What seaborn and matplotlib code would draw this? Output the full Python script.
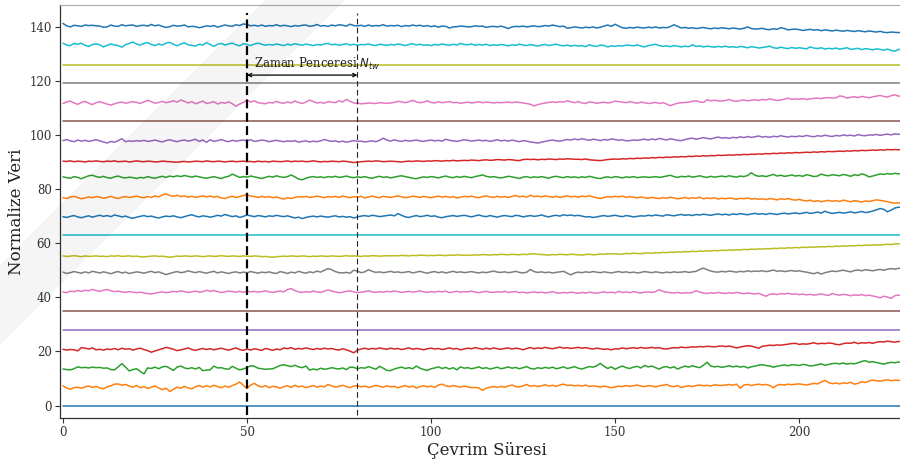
import numpy as np
import pandas as pd
import matplotlib
matplotlib.use("Agg")
import matplotlib.pyplot as plt
from matplotlib.patches import Polygon
import seaborn as sns

# ---------------------------------------------------------------------------
# Normalised sensor signals, each shifted by 7 units so the traces stack up.
# ---------------------------------------------------------------------------
offset_step = 7
window_start = 50
window_end = 80
window_label = "Zaman Penceresi $N_{tw}$"
x_label = "Çevrim Süresi"
y_label = "Normalize Veri"
x_ticks = [0, 50, 100, 150, 200]
y_ticks = [0, 20, 40, 60, 80, 100, 120, 140]
n_cycles = 229

# sensors that stay constant over the whole run (index -> level)
flat_levels = {0: 0.0, 4: 28.0, 5: 35.0, 9: 63.0, 15: 105.0, 17: 119.0, 18: 126.0}

s01 = [7.3, 6.5, 6.0, 6.6, 6.8, 6.4, 6.9, 7.2, 6.7, 7.1,
       6.5, 6.2, 6.9, 7.3, 7.9, 8.0, 7.5, 7.8, 7.2, 6.8,
       7.4, 6.6, 7.0, 6.3, 6.8, 7.2, 6.5, 5.9, 6.4, 5.2,
       6.0, 6.8, 6.4, 7.1, 6.5, 6.2, 6.9, 7.4, 6.8, 7.3,
       6.9, 7.5, 7.0, 6.6, 7.2, 6.8, 7.4, 7.9, 8.7, 7.5,
       6.3, 7.6, 8.2, 7.3, 6.8, 7.4, 6.6, 7.1, 6.9, 6.4,
       7.0, 7.3, 6.7, 7.5, 6.9, 7.2, 6.6, 7.0, 7.4, 6.8,
       7.2, 6.9, 7.8, 7.3, 6.8, 7.1, 7.5, 7.0, 6.6, 7.2,
       7.4, 6.9, 7.2, 6.7, 7.0, 7.5, 7.1, 6.8, 7.3, 6.9,
       7.1, 6.6, 7.0, 7.4, 6.8, 7.2, 6.5, 7.0, 7.3, 6.9,
       7.2, 6.7, 7.6, 7.9, 7.3, 7.0, 7.4, 7.1, 6.8, 7.2,
       6.9, 6.6, 6.7, 6.5, 5.6, 6.4, 6.8, 7.0, 6.7, 7.1,
       6.8, 7.2, 7.6, 7.0, 6.9, 7.3, 7.8, 7.1, 7.4, 7.0,
       7.3, 7.7, 7.2, 7.5, 7.1, 7.6, 7.9, 7.4, 7.6, 7.3,
       7.5, 7.2, 7.6, 7.0, 7.3, 7.1, 6.8, 7.2, 6.9, 6.6,
       6.9, 7.2, 7.0, 7.4, 7.1, 7.3, 7.6, 7.2, 7.0, 7.4,
       7.2, 6.9, 7.3, 7.5, 7.8, 7.2, 7.0, 7.4, 6.6, 7.1,
       7.3, 7.0, 7.4, 7.6, 7.3, 7.5, 7.2, 7.7, 7.5, 7.4,
       7.6, 7.8, 7.5, 7.9, 6.4, 7.6, 7.8, 7.4, 7.7, 7.9,
       7.6, 7.8, 7.4, 6.6, 7.5, 7.8, 7.6, 7.9, 7.7, 7.9,
       8.0, 7.8, 7.6, 7.9, 8.2, 8.0, 8.7, 9.3, 8.5, 8.1,
       8.3, 8.0, 8.4, 8.2, 8.6, 7.9, 8.2, 8.8, 8.5, 9.1,
       9.4, 9.2, 9.0, 9.3, 9.5, 9.2, 9.4, 9.3, 9.4]

s02 = [13.5, 13.3, 13.2, 13.6, 14.3, 14.0, 14.1, 13.9, 14.2, 14.0,
       14.1, 13.8, 13.9, 13.3, 13.2, 14.3, 15.5, 14.2, 12.8, 13.3,
       13.6, 12.6, 11.7, 13.9, 13.7, 14.2, 13.6, 14.3, 14.5, 13.8,
       13.0, 14.2, 14.6, 13.9, 13.6, 14.0, 13.5, 14.1, 12.9, 13.1,
       13.2, 14.6, 13.9, 14.0, 13.6, 13.4, 14.5, 13.8, 13.2, 13.5,
       14.1, 14.7, 14.5, 13.8, 13.6, 13.4, 13.5, 13.6, 14.2, 14.8,
       15.1, 14.7, 14.4, 14.9, 14.3, 14.0, 14.6, 13.1, 13.5, 13.2,
       13.8, 13.4, 13.6, 14.0, 13.7, 13.5, 13.9, 13.3, 14.2, 14.1,
       13.6, 14.0, 13.8, 14.4, 13.9, 13.4, 14.5, 13.8, 13.0, 12.9,
       13.5, 13.9, 14.2, 13.7, 14.0, 13.6, 14.6, 13.8, 13.3, 13.0,
       13.6, 13.9, 14.3, 13.7, 14.1, 13.5, 14.0, 13.2, 14.3, 13.8,
       14.0, 13.6, 13.9, 14.3, 13.7, 14.0, 13.5, 13.8, 14.2, 13.6,
       13.9, 14.3, 13.8, 14.1, 13.6, 14.0, 14.4, 13.7, 13.5, 14.0,
       13.7, 14.1, 13.8, 14.2, 13.6, 13.9, 14.3, 13.7, 14.0, 14.4,
       13.8, 13.5, 14.0, 14.4, 14.2, 14.7, 15.6, 14.5, 13.7, 14.3,
       13.4, 14.1, 14.6, 14.0, 13.7, 14.2, 14.5, 13.9, 14.8, 14.3,
       14.6, 14.0, 13.5, 14.2, 14.4, 13.9, 14.3, 13.5, 14.1, 14.6,
       14.2, 14.7, 14.3, 14.0, 14.9, 16.0, 14.6, 14.3, 14.5, 14.1,
       14.4, 14.7, 14.3, 14.6, 14.2, 14.5, 13.9, 14.3, 14.6, 14.9,
       15.1, 14.8, 14.6, 14.2, 14.5, 14.8, 15.0, 14.7, 15.1, 15.0,
       14.8, 15.2, 15.0, 14.6, 14.8, 15.1, 15.4, 14.9, 15.2, 15.5,
       15.6, 15.4, 15.7, 15.3, 15.6, 15.4, 15.8, 16.3, 16.6, 16.0,
       16.2, 15.9, 15.6, 15.3, 15.7, 16.0, 15.8, 16.1, 15.9]

s03 = [20.8, 20.5, 20.7, 20.6, 20.2, 21.4, 21.2, 20.9, 21.3, 20.6,
       20.8, 20.5, 20.9, 20.7, 21.1, 20.6, 21.2, 20.8, 21.0, 20.5,
       20.9, 21.2, 20.7, 20.3, 19.7, 20.2, 20.6, 21.0, 21.5, 21.2,
       20.8, 20.3, 20.6, 20.9, 21.3, 20.7, 20.4, 20.8, 21.1, 20.7,
       21.0, 20.6, 20.9, 21.2, 20.8, 20.5, 20.9, 21.3, 20.7, 20.4,
       20.9, 20.5, 21.0, 20.7, 20.4, 21.1, 20.8, 20.4, 20.9, 20.6,
       21.3, 21.0, 21.4, 20.8, 21.1, 20.9, 21.3, 21.0, 20.7, 21.1,
       20.8, 21.2, 20.9, 21.1, 20.7, 20.5, 21.0, 20.6, 20.1, 19.5,
       20.5, 20.9, 21.2, 20.8, 21.1, 20.9, 21.3, 21.0, 20.8, 21.2,
       20.9, 21.1, 20.7, 21.0, 21.3, 20.8, 21.1, 20.9, 20.6, 21.0,
       21.2, 20.9, 21.1, 20.7, 21.0, 21.3, 20.9, 21.1, 20.6, 20.9,
       21.2, 21.0, 21.4, 21.1, 20.8, 21.2, 20.9, 21.3, 21.0, 20.8,
       21.1, 21.3, 20.9, 21.2, 21.0, 20.6, 21.1, 21.4, 21.0, 21.3,
       21.1, 21.5, 21.2, 21.0, 21.3, 21.6, 21.2, 21.4, 21.1, 21.3,
       21.5, 21.2, 21.4, 21.1, 20.9, 21.2, 21.0, 20.8, 20.9, 20.6,
       21.0, 20.9, 21.3, 21.0, 21.2, 21.4, 21.1, 21.5, 21.2, 21.3,
       21.5, 21.2, 21.4, 21.0, 20.9, 21.2, 21.4, 21.3, 21.6, 21.4,
       21.5, 21.7, 21.6, 21.8, 21.7, 21.9, 21.8, 21.7, 21.9, 22.0,
       21.8, 22.0, 21.7, 21.3, 21.6, 21.9, 22.1, 22.0, 21.6, 21.2,
       21.9, 22.1, 22.3, 22.2, 22.4, 22.3, 22.5, 22.7, 22.9, 23.0,
       22.6, 22.8, 22.7, 22.9, 23.2, 22.8, 23.0, 22.9, 23.1, 23.0,
       22.6, 22.5, 22.9, 23.1, 23.0, 23.4, 22.9, 23.2, 23.1, 23.3,
       23.0, 23.4, 23.6, 23.5, 23.8, 23.6, 23.4, 23.7, 23.5]

s06 = [42.0, 41.7, 42.3, 42.1, 42.5, 42.2, 42.6, 42.4, 42.9, 42.5,
       42.2, 42.6, 42.9, 42.4, 42.1, 42.3, 42.0, 41.8, 42.1, 41.9,
       41.7, 41.9, 41.6, 41.4, 41.2, 41.5, 41.8, 42.0, 41.7, 41.9,
       42.2, 42.0, 42.4, 42.1, 41.8, 42.0, 42.3, 41.9, 42.1, 42.6,
       42.2, 42.5, 42.1, 41.8, 42.0, 42.3, 42.1, 41.9, 42.2, 41.8,
       42.3, 42.0, 42.2, 41.9, 42.1, 42.4, 42.0, 41.8, 42.1, 42.3,
       42.0, 42.9, 43.2, 42.5, 42.0, 41.8, 42.1, 41.9, 42.3, 42.0,
       41.8, 42.2, 42.8, 42.3, 42.0, 41.7, 41.9, 42.2, 42.4, 42.0,
       41.7, 41.9, 42.1, 42.4, 42.0, 41.8, 42.1, 41.9, 42.2, 42.0,
       42.3, 42.1, 41.8, 42.0, 42.2, 41.9, 42.1, 42.4, 42.0, 41.8,
       42.1, 41.9, 42.2, 42.0, 42.3, 41.7, 42.0, 42.2, 41.9, 42.1,
       42.0, 42.3, 41.9, 41.7, 42.0, 42.2, 41.9, 41.8, 42.1, 41.9,
       42.2, 41.8, 42.0, 42.1, 41.7, 41.9, 41.6, 41.8, 42.0, 41.7,
       41.9, 41.6, 41.8, 42.1, 41.7, 41.5, 41.8, 41.6, 41.9, 41.7,
       41.5, 41.8, 41.6, 41.9, 41.7, 41.5, 41.8, 42.0, 41.7, 41.9,
       41.6, 42.2, 41.8, 42.0, 41.7, 42.1, 41.8, 41.6, 41.9, 42.0,
       41.8, 42.1, 42.8, 42.2, 41.9, 41.7, 41.6, 41.8, 41.5, 41.7,
       41.6, 41.8, 42.4, 41.9, 41.6, 41.4, 41.7, 41.5, 41.8, 41.6,
       41.4, 41.7, 41.5, 41.8, 41.6, 41.3, 41.6, 41.4, 41.2, 41.5,
       40.9, 40.4, 41.1, 41.3, 41.0, 41.4, 41.2, 41.5, 41.1, 41.3,
       41.0, 41.2, 40.9, 41.1, 40.8, 41.0, 41.3, 40.9, 40.7, 41.4,
       41.0, 40.8, 41.1, 40.9, 40.6, 40.9, 40.7, 41.0, 40.6, 40.8,
       40.5, 40.2, 39.8, 40.4, 40.1, 39.6, 40.6, 40.8, 40.7]

s07 = [49.3, 48.8, 49.1, 49.5, 49.2, 48.9, 49.4, 49.0, 49.6, 49.3,
       49.0, 49.4, 49.1, 48.7, 49.2, 49.5, 49.0, 49.3, 48.8, 49.1,
       49.4, 49.2, 48.9, 49.3, 49.6, 49.1, 49.4, 48.9, 48.4, 48.8,
       49.2, 49.5, 49.1, 49.3, 49.8, 49.4, 49.1, 49.5, 49.2, 48.9,
       49.3, 49.6, 49.0, 49.4, 49.1, 48.8, 49.2, 49.4, 49.0, 49.3,
       49.1, 49.5, 49.2, 48.9, 49.3, 49.1, 49.4, 49.0, 48.8, 49.5,
       49.2, 48.8, 49.3, 49.0, 49.6, 49.2, 48.9, 49.4, 49.1, 49.7,
       49.3, 50.0, 50.6, 50.2, 49.5, 49.1, 49.0, 49.2, 48.9, 50.0,
       49.7, 49.1, 49.4, 50.2, 49.6, 49.2, 49.4, 49.1, 49.3, 49.6,
       49.2, 49.4, 49.1, 49.3, 49.5, 49.0, 49.3, 49.6, 49.2, 48.9,
       49.3, 49.5, 49.1, 49.4, 49.0, 49.3, 49.6, 49.2, 49.4, 49.1,
       49.3, 49.5, 49.2, 49.0, 49.3, 49.1, 49.4, 49.7, 49.3, 49.2,
       49.4, 49.1, 49.3, 49.6, 49.2, 49.0, 49.3, 50.3, 49.5, 49.2,
       49.4, 49.1, 49.3, 49.0, 49.2, 49.4, 49.6, 48.9, 48.3, 49.0,
       49.3, 49.1, 49.4, 49.2, 49.5, 49.3, 49.1, 49.4, 49.2, 49.0,
       49.3, 49.5, 49.2, 49.4, 49.1, 49.3, 49.0, 49.2, 49.5, 49.3,
       49.1, 49.4, 49.2, 49.0, 49.3, 49.1, 49.4, 49.2, 49.3, 49.5,
       49.2, 49.4, 49.6, 50.3, 50.8, 50.2, 49.7, 49.4, 49.3, 49.6,
       49.4, 49.7, 49.5, 49.3, 49.6, 49.4, 49.8, 49.5, 49.7, 49.6,
       49.8, 49.5, 49.7, 50.1, 49.6, 49.8, 49.5, 49.7, 49.9, 49.6,
       49.8, 49.5, 49.3, 49.0, 48.7, 49.2, 48.6, 49.1, 49.4, 49.7,
       49.5, 49.8, 50.0, 49.7, 49.4, 49.9, 50.1, 49.8, 50.2, 50.0,
       49.8, 50.1, 50.3, 50.0, 50.4, 50.6, 50.4, 50.7, 50.9]

s08 = [55.3, 55.1, 55.2, 55.4, 55.2, 55.0, 55.3, 55.1, 55.2, 55.3,
       55.1, 55.2, 55.0, 55.3, 55.2, 55.4, 55.1, 55.2, 55.3, 55.1,
       55.2, 55.0, 54.9, 55.1, 55.2, 55.3, 55.1, 55.2, 55.0, 54.8,
       55.0, 55.2, 55.1, 55.3, 55.2, 55.1, 55.3, 55.2, 55.0, 55.2,
       55.3, 55.1, 55.2, 55.4, 55.2, 55.1, 55.3, 55.2, 55.1, 55.3,
       55.2, 55.1, 55.3, 55.2, 55.0, 55.1, 54.9, 54.8, 55.0, 55.1,
       55.2, 55.1, 55.3, 55.2, 55.1, 55.3, 55.2, 55.0, 55.2, 55.1,
       55.3, 55.2, 55.1, 55.3, 55.2, 55.1, 55.2, 55.4, 55.2, 55.3,
       55.2, 55.1, 55.3, 55.2, 55.4, 55.3, 55.2, 55.3, 55.4, 55.3,
       55.4, 55.3, 55.5, 55.4, 55.3, 55.5, 55.4, 55.6, 55.5, 55.4,
       55.5, 55.4, 55.6, 55.5, 55.4, 55.6, 55.5, 55.7, 55.6, 55.5,
       55.6, 55.5, 55.7, 55.6, 55.8, 55.7, 55.6, 55.8, 55.7, 55.9,
       55.8, 55.7, 55.9, 55.8, 55.7, 55.9, 55.8, 56.0, 56.1, 55.9,
       55.8, 55.7, 55.6, 55.8, 55.7, 55.9, 55.8, 55.7, 55.9, 55.8,
       55.7, 55.6, 55.8, 55.9, 55.7, 55.8, 56.0, 55.9, 56.1, 56.0,
       56.1, 55.9, 56.0, 56.2, 56.1, 56.3, 56.2, 56.1, 56.3, 56.4,
       56.3, 56.5, 56.4, 56.6, 56.5, 56.7, 56.6, 56.8, 56.7, 56.9,
       56.8, 57.0, 56.9, 57.1, 57.0, 57.2, 57.1, 57.3, 57.2, 57.4,
       57.3, 57.5, 57.4, 57.6, 57.5, 57.7, 57.6, 57.8, 57.7, 57.9,
       57.8, 58.0, 57.9, 58.1, 58.0, 58.2, 58.1, 58.3, 58.2, 58.4,
       58.3, 58.5, 58.4, 58.6, 58.5, 58.6, 58.7, 58.6, 58.8, 58.7,
       58.9, 58.8, 59.0, 58.9, 59.1, 59.0, 59.2, 59.1, 59.3, 59.2,
       59.3, 59.4, 59.3, 59.5, 59.6, 59.5, 59.7, 59.8, 59.9]

s10 = [69.8, 69.5, 69.9, 70.2, 69.7, 69.4, 69.8, 70.1, 69.6, 70.0,
       70.3, 69.9, 70.2, 69.8, 70.4, 70.1, 69.7, 70.0, 69.5, 69.2,
       69.6, 69.9, 70.2, 69.8, 70.0, 69.6, 69.3, 69.7, 70.0, 69.8,
       70.1, 69.7, 69.4, 69.8, 70.2, 70.5, 70.0, 69.7, 70.1, 69.9,
       69.6, 69.9, 70.3, 70.0, 70.6, 70.2, 69.8, 70.1, 69.5, 69.9,
       70.4, 70.1, 69.8, 70.2, 70.0, 69.7, 70.1, 69.9, 70.3, 70.0,
       69.8, 70.1, 69.7, 69.3, 69.6, 69.1, 69.5, 69.8, 70.0, 69.7,
       70.0, 69.8, 69.6, 69.9, 70.1, 69.7, 69.9, 69.6, 69.8, 69.3,
       69.7, 70.0, 70.2, 69.9, 70.3, 70.1, 69.8, 70.0, 70.2, 70.4,
       70.1, 70.9, 70.3, 69.7, 69.5, 69.9, 70.2, 69.8, 70.0, 70.3,
       69.9, 70.1, 69.6, 69.4, 69.8, 70.0, 70.2, 69.9, 70.1, 70.3,
       70.0, 69.7, 70.1, 70.4, 70.0, 69.8, 70.2, 69.9, 69.6, 70.0,
       70.2, 70.0, 69.8, 70.3, 70.1, 69.7, 70.0, 70.2, 69.9, 70.1,
       70.4, 70.0, 69.7, 70.1, 70.3, 70.0, 70.5, 70.2, 70.4, 70.1,
       70.3, 70.0, 69.7, 69.8, 69.5, 69.7, 70.0, 70.2, 69.9, 70.1,
       70.3, 70.0, 69.8, 70.2, 70.0, 69.7, 69.9, 70.1, 70.0, 70.3,
       70.1, 70.4, 70.2, 70.0, 70.5, 70.3, 70.1, 70.4, 70.6, 70.3,
       70.5, 70.2, 70.6, 70.4, 70.7, 70.5, 70.3, 70.6, 70.8, 70.5,
       70.7, 70.4, 70.8, 70.6, 70.9, 70.7, 70.5, 70.8, 71.0, 70.7,
       70.9, 70.6, 71.0, 70.8, 70.6, 70.9, 71.1, 70.8, 71.0, 71.2,
       70.9, 71.1, 71.4, 71.0, 71.2, 71.5, 71.1, 71.8, 71.3, 71.0,
       71.2, 71.4, 71.1, 71.3, 71.6, 71.2, 71.4, 71.7, 71.3, 71.5,
       71.9, 72.3, 72.8, 72.5, 71.6, 72.2, 73.0, 73.3, 73.1]

s11 = [76.8, 76.5, 77.0, 77.3, 76.9, 76.4, 76.7, 77.1, 76.8, 77.2,
       77.0, 76.6, 76.9, 77.3, 76.8, 76.5, 77.0, 77.2, 76.9, 77.1,
       77.4, 77.0, 76.8, 77.2, 76.9, 77.5, 77.1, 77.8, 78.2, 77.6,
       77.3, 77.7, 77.2, 77.5, 77.0, 77.3, 76.9, 77.2, 77.5, 77.1,
       77.4, 77.0, 77.3, 76.7, 76.5, 77.0, 77.3, 76.9, 77.2, 77.6,
       77.9, 77.4, 77.2, 76.9, 77.3, 77.0, 77.2, 76.8, 77.1, 76.6,
       76.3, 76.8, 76.5, 76.9, 77.2, 77.0, 77.3, 76.9, 77.1, 77.4,
       77.1, 76.8, 77.2, 77.0, 77.3, 76.9, 77.4, 77.1, 76.8, 77.2,
       77.0, 77.3, 76.7, 77.1, 77.4, 77.0, 76.8, 77.3, 77.1, 76.9,
       77.2, 77.5, 77.1, 76.8, 77.0, 77.4, 77.2, 76.9, 77.3, 77.0,
       76.8, 77.1, 77.4, 77.0, 77.3, 76.9, 77.2, 76.7, 77.0, 77.3,
       77.1, 77.4, 77.0, 76.8, 77.2, 77.5, 77.1, 76.9, 77.3, 77.0,
       77.2, 76.9, 77.3, 77.6, 77.1, 77.4, 77.0, 77.7, 77.2, 77.4,
       77.1, 77.5, 77.2, 77.0, 77.3, 76.9, 77.2, 77.5, 77.1, 77.3,
       77.0, 77.4, 77.2, 77.5, 77.1, 76.8, 76.5, 76.9, 77.2, 77.0,
       77.3, 77.1, 77.4, 76.9, 77.2, 77.0, 76.7, 77.1, 76.8, 76.6,
       76.9, 76.7, 76.5, 76.8, 76.6, 77.0, 76.7, 76.4, 76.6, 76.9,
       76.5, 76.8, 76.6, 77.0, 76.4, 76.7, 76.5, 76.8, 76.3, 76.6,
       76.4, 76.7, 76.5, 76.2, 76.6, 76.4, 76.7, 76.3, 76.5, 76.2,
       76.4, 76.1, 76.5, 76.3, 76.0, 76.4, 76.2, 76.5, 76.1, 75.9,
       76.2, 75.8, 75.6, 75.9, 75.4, 75.7, 75.3, 75.6, 75.8, 75.5,
       75.7, 75.4, 75.9, 75.6, 75.3, 75.7, 75.5, 75.2, 75.6, 75.4,
       75.7, 76.0, 75.8, 75.6, 75.3, 75.0, 74.8, 74.9, 74.7]

s12 = [84.5, 84.2, 84.0, 84.6, 84.3, 83.8, 84.4, 84.9, 85.1, 84.6,
       84.3, 84.7, 84.2, 84.0, 84.5, 84.8, 84.3, 84.1, 84.4, 84.2,
       83.9, 84.3, 84.1, 84.6, 84.2, 84.0, 84.4, 84.7, 84.3, 84.8,
       84.5, 84.9, 84.6, 85.0, 84.7, 84.4, 84.8, 84.5, 84.2, 84.0,
       84.3, 84.6, 84.2, 83.9, 84.4, 84.7, 85.5, 84.9, 84.3, 84.6,
       84.4, 84.8, 84.5, 84.2, 83.9, 84.3, 84.7, 84.4, 84.9, 84.5,
       84.3, 84.6, 85.2, 84.5, 83.7, 83.4, 84.0, 84.4, 84.6, 84.3,
       84.5, 84.2, 84.6, 84.4, 84.7, 84.3, 84.5, 84.8, 84.4, 84.2,
       84.5, 84.3, 84.6, 84.2, 84.0, 84.4, 84.7, 84.3, 84.5, 84.1,
       84.4, 84.7, 84.9, 84.6, 84.3, 84.0, 83.8, 84.2, 84.5, 84.3,
       84.6, 84.4, 84.1, 84.5, 84.8, 84.4, 84.2, 84.6, 84.3, 84.7,
       84.4, 84.2, 84.6, 84.9, 85.2, 84.7, 84.4, 84.6, 84.3, 84.1,
       84.4, 84.7, 84.5, 84.2, 83.9, 84.4, 84.6, 84.2, 84.5, 84.3,
       84.6, 84.3, 84.0, 84.5, 84.7, 84.4, 84.2, 84.6, 84.3, 84.5,
       84.2, 84.5, 84.3, 84.7, 84.4, 84.0, 83.9, 84.3, 84.5, 84.2,
       84.6, 84.4, 84.1, 84.5, 84.3, 84.6, 84.2, 84.4, 84.5, 84.3,
       84.4, 84.6, 84.3, 84.5, 84.8, 85.1, 84.6, 84.3, 84.7, 84.5,
       84.8, 84.4, 84.6, 84.9, 84.5, 84.3, 84.7, 84.4, 84.6, 84.8,
       84.5, 84.9, 84.6, 84.4, 84.8, 84.6, 85.0, 86.0, 85.1, 84.7,
       84.9, 84.6, 85.0, 85.4, 84.8, 85.1, 84.7, 84.9, 85.2, 84.8,
       85.0, 84.7, 85.3, 85.0, 84.6, 84.8, 85.5, 85.1, 84.9, 85.3,
       85.1, 84.9, 85.4, 85.1, 84.7, 85.3, 85.0, 85.6, 85.2, 84.5,
       84.8, 85.2, 85.6, 85.4, 85.7, 85.5, 85.8, 85.6, 85.7]

s13 = [90.3, 90.2, 90.4, 90.1, 90.3, 90.2, 90.0, 90.3, 90.2, 90.4,
       90.2, 90.1, 90.3, 90.2, 90.4, 90.1, 90.2, 90.3, 90.0, 90.2,
       90.4, 90.2, 90.1, 90.3, 90.2, 90.0, 90.1, 90.3, 90.2, 90.1,
       90.0, 89.9, 90.1, 90.2, 90.0, 90.1, 90.3, 90.2, 90.1, 90.4,
       90.2, 90.1, 90.3, 90.2, 90.0, 90.2, 90.3, 90.1, 90.2, 90.3,
       90.1, 90.2, 90.0, 90.3, 90.1, 90.2, 90.0, 90.3, 90.2, 90.1,
       90.2, 90.4, 90.1, 90.3, 90.2, 90.3, 90.1, 90.2, 90.4, 90.2,
       90.0, 90.2, 90.1, 90.3, 90.2, 90.1, 90.3, 90.2, 90.0, 89.8,
       89.9, 90.1, 90.2, 90.3, 90.2, 90.4, 90.3, 90.1, 90.2, 90.3,
       90.2, 90.1, 90.0, 90.2, 90.3, 90.2, 90.4, 90.3, 90.2, 90.4,
       90.3, 90.5, 90.4, 90.3, 90.5, 90.4, 90.6, 90.4, 90.5, 90.6,
       90.5, 90.7, 90.6, 90.5, 90.7, 90.8, 90.6, 90.7, 90.9, 90.8,
       90.7, 90.9, 90.8, 90.6, 90.5, 90.9, 91.0, 90.9, 91.0, 90.8,
       91.0, 90.9, 91.1, 91.0, 90.9, 91.1, 91.0, 91.2, 91.1, 91.0,
       91.0, 90.9, 91.1, 90.8, 90.7, 90.6, 90.5, 90.7, 90.9, 91.0,
       91.1, 91.0, 91.2, 91.1, 91.3, 91.2, 91.4, 91.3, 91.5, 91.4,
       91.6, 91.5, 91.7, 91.6, 91.8, 91.7, 91.9, 91.8, 92.0, 91.9,
       92.1, 92.0, 92.2, 92.1, 92.3, 92.2, 92.4, 92.3, 92.5, 92.4,
       92.5, 92.6, 92.5, 92.7, 92.6, 92.8, 92.7, 92.9, 92.8, 93.0,
       92.9, 93.1, 93.0, 93.2, 93.1, 93.3, 93.2, 93.4, 93.3, 93.5,
       93.4, 93.5, 93.6, 93.5, 93.7, 93.6, 93.8, 93.7, 93.9, 93.8,
       93.9, 94.0, 93.9, 94.1, 94.0, 94.2, 94.1, 94.3, 94.2, 94.3,
       94.4, 94.3, 94.5, 94.4, 94.6, 94.5, 94.6, 94.5, 94.7]

s14 = [97.9, 98.3, 97.8, 97.5, 98.1, 97.7, 98.0, 97.6, 97.9, 98.2,
       97.8, 97.4, 97.0, 97.6, 97.3, 97.9, 98.6, 97.5, 97.8, 97.6,
       97.9, 97.7, 98.0, 97.6, 97.8, 98.1, 97.7, 97.4, 97.9, 98.2,
       97.8, 97.5, 97.9, 98.1, 97.7, 98.0, 98.4, 97.6, 98.1, 97.3,
       98.2, 97.6, 97.9, 98.3, 97.8, 97.5, 98.0, 97.7, 97.9, 98.1,
       97.8, 98.2, 97.6, 97.8, 98.1, 97.9, 97.5, 97.8, 98.0, 97.7,
       97.5, 97.8, 97.6, 97.9, 97.3, 97.6, 97.8, 97.4, 97.7, 97.5,
       97.8, 98.3, 97.9, 97.6, 97.8, 97.4, 97.7, 97.3, 97.6, 97.9,
       97.6, 97.7, 97.4, 97.6, 97.8, 97.5, 98.0, 98.8, 98.1, 97.7,
       98.2, 97.8, 97.6, 98.0, 97.7, 97.9, 98.1, 97.8, 97.6, 97.9,
       98.1, 97.8, 98.0, 97.7, 98.4, 98.0, 97.8, 97.6, 97.9, 98.2,
       98.0, 97.7, 97.9, 98.1, 97.8, 98.0, 97.6, 97.9, 98.2, 97.8,
       98.0, 97.7, 98.1, 97.8, 97.5, 97.9, 97.7, 97.4, 97.2, 97.0,
       97.3, 97.6, 97.9, 98.1, 97.8, 97.7, 98.0, 98.3, 98.1, 98.5,
       98.2, 98.6, 98.3, 98.0, 98.4, 98.2, 97.9, 98.3, 98.1, 98.5,
       98.3, 98.0, 98.2, 97.8, 97.9, 98.1, 98.0, 98.2, 98.4, 98.1,
       98.5, 98.2, 98.7, 98.4, 98.1, 98.6, 98.3, 98.0, 97.9, 98.3,
       98.6, 98.8, 98.4, 98.7, 99.0, 98.7, 98.5, 98.9, 99.2, 98.8,
       99.0, 98.7, 99.1, 98.9, 99.3, 99.0, 99.4, 99.1, 99.3, 99.6,
       99.2, 99.4, 99.1, 99.5, 99.3, 99.7, 99.4, 99.2, 99.5, 99.3,
       99.6, 99.4, 99.8, 99.5, 99.3, 99.7, 99.5, 99.9, 99.6, 99.4,
       99.8, 99.6, 100.0, 99.7, 99.9, 99.6, 100.1, 99.8, 99.7, 100.0,
       99.9, 100.2, 99.8, 100.1, 100.3, 100.0, 100.4, 100.2, 100.5]

s16 = [111.6, 112.2, 112.5, 111.8, 111.3, 112.0, 112.4, 111.7, 111.2, 111.9,
       112.3, 111.8, 111.4, 111.0, 111.5, 111.9, 112.1, 111.7, 112.0, 112.3,
       112.0, 111.6, 112.2, 112.8, 112.3, 111.7, 112.0, 112.4, 111.9, 112.2,
       112.6, 112.1, 112.9, 112.4, 111.8, 112.3, 111.5, 112.0, 112.5, 111.6,
       111.9, 112.3, 111.4, 112.0, 111.7, 112.2, 111.5, 110.6, 111.4, 112.0,
       112.9, 112.1, 112.6, 111.9, 111.7, 111.5, 112.0, 111.8, 112.4, 111.9,
       111.7, 112.2, 111.8, 112.5, 112.0, 111.6, 112.1, 112.9, 112.3, 111.8,
       112.0, 111.7, 112.3, 112.1, 111.9, 112.6, 112.2, 113.1, 112.4, 111.8,
       111.7, 111.5, 111.6, 111.8, 111.7, 111.6, 111.9, 111.8, 111.7, 111.8,
       112.0, 112.4, 112.2, 111.9, 112.3, 112.8, 112.2, 111.9, 112.1, 112.6,
       112.0, 111.8, 112.2, 111.9, 112.1, 112.3, 111.9, 112.0, 111.7, 111.9,
       112.1, 111.8, 112.0, 112.2, 111.9, 112.1, 112.0, 111.8, 112.0, 111.9,
       112.0, 112.1, 111.9, 112.2, 112.0, 111.8, 111.6, 111.3, 110.7, 111.2,
       111.5, 111.8, 112.0, 112.2, 112.0, 112.3, 112.1, 112.6, 112.2, 111.9,
       112.3, 111.8, 111.6, 112.2, 112.0, 111.7, 111.9, 112.1, 111.8, 112.0,
       112.5, 112.3, 112.1, 111.9, 112.3, 112.0, 111.7, 112.1, 111.9, 111.6,
       111.8, 112.0, 111.6, 111.9, 111.4, 110.8, 111.3, 111.7, 111.9, 112.0,
       112.1, 112.4, 112.6, 112.2, 112.0, 113.0, 112.6, 112.8, 112.6, 112.5,
       112.7, 113.1, 112.6, 112.4, 112.7, 112.9, 112.6, 112.8, 113.0, 112.7,
       113.1, 112.9, 113.3, 113.0, 112.7, 112.9, 113.2, 113.6, 113.1, 113.3,
       113.2, 113.4, 113.1, 113.3, 113.5, 113.6, 113.4, 113.7, 113.8, 113.6,
       113.7, 114.4, 114.2, 113.6, 113.9, 114.1, 113.8, 114.2, 114.0, 113.7,
       114.1, 114.3, 114.6, 114.2, 114.0, 114.5, 114.8, 114.3, 114.6]

s19 = [133.9, 133.2, 133.0, 133.8, 133.5, 133.9, 133.1, 132.7, 133.4, 133.6,
       133.3, 132.5, 133.1, 133.6, 133.2, 133.0, 132.4, 133.3, 133.8, 134.3,
       133.6, 133.2, 133.8, 134.1, 133.4, 133.0, 133.6, 133.2, 133.9, 134.2,
       133.5, 132.9, 133.6, 134.0, 133.3, 133.1, 132.8, 133.5, 133.2, 134.1,
       133.4, 132.7, 133.5, 133.8, 133.2, 133.6, 133.9, 133.3, 132.9, 133.7,
       133.4, 133.0, 133.6, 133.9, 133.5, 133.1, 133.4, 133.2, 133.6, 133.3,
       133.0, 133.5, 133.2, 133.7, 133.4, 133.1, 133.6, 133.3, 133.0, 133.4,
       133.2, 133.6, 133.8, 133.3, 133.5, 133.1, 133.4, 133.7, 133.2, 133.5,
       133.1, 133.4, 133.3, 133.6, 133.2, 133.0, 133.5, 133.3, 133.1, 133.4,
       133.2, 133.6, 133.3, 133.0, 133.4, 133.7, 133.2, 133.5, 133.1, 133.3,
       133.0, 133.4, 133.2, 133.6, 133.3, 133.1, 133.5, 133.2, 133.8, 133.4,
       133.3, 133.6, 133.1, 133.4, 133.2, 133.5, 133.0, 133.3, 133.1, 133.4,
       133.2, 132.9, 133.3, 133.1, 133.5, 133.2, 133.0, 133.4, 133.1, 132.8,
       133.2, 133.4, 133.0, 133.3, 133.5, 133.1, 132.9, 133.2, 132.8, 133.1,
       132.8, 133.0, 132.6, 133.3, 132.9, 132.7, 133.2, 133.0, 132.5, 132.9,
       132.7, 133.0, 132.8, 133.2, 133.1, 132.9, 133.3, 132.8, 132.5, 133.0,
       133.2, 133.5, 133.0, 132.7, 132.9, 132.6, 133.0, 132.8, 132.5, 132.8,
       132.6, 133.3, 132.7, 132.9, 132.5, 132.8, 132.6, 132.4, 132.7, 132.5,
       132.8, 132.4, 132.6, 132.3, 132.7, 132.5, 132.2, 132.6, 132.4, 132.1,
       132.3, 132.5, 132.8, 132.2, 132.0, 132.4, 132.1, 131.9, 132.3, 132.0,
       132.2, 132.0, 131.8, 132.5, 132.1, 131.9, 132.2, 131.7, 132.0, 131.8,
       132.1, 131.7, 131.9, 132.2, 131.6, 131.8, 132.0, 131.5, 131.9, 131.7,
       131.4, 131.8, 131.6, 131.3, 131.7, 131.2, 130.9, 131.6, 131.4]

s20 = [141.2, 140.3, 139.9, 140.5, 140.3, 140.1, 140.6, 140.4, 140.5, 140.3,
       140.2, 139.8, 139.9, 140.6, 140.2, 140.1, 140.7, 140.3, 140.5, 140.6,
       140.1, 140.4, 140.5, 140.2, 140.8, 140.3, 140.6, 140.1, 139.7, 140.0,
       140.5, 140.2, 140.3, 140.6, 139.9, 140.1, 140.0, 139.6, 139.9, 140.3,
       140.1, 140.4, 139.8, 140.2, 140.6, 140.3, 140.1, 140.7, 140.4, 141.0,
       140.8, 140.3, 140.5, 140.2, 140.6, 140.1, 140.4, 140.3, 140.7, 140.2,
       140.5, 140.3, 140.0, 140.4, 140.2, 140.5, 140.6, 140.1, 140.3, 140.8,
       140.2, 140.4, 140.1, 140.6, 140.3, 140.7, 140.5, 140.2, 140.9, 140.4,
       140.3, 140.5, 140.1, 140.6, 140.2, 140.4, 140.3, 140.7, 140.2, 140.4,
       140.3, 140.5, 140.0, 140.4, 140.2, 140.6, 140.3, 140.5, 140.1, 140.4,
       140.0, 140.3, 139.8, 140.2, 140.1, 139.5, 139.9, 140.0, 140.2, 140.1,
       139.9, 140.0, 140.3, 140.1, 140.2, 139.7, 140.0, 140.1, 139.9, 140.2,
       139.8, 139.3, 139.9, 140.1, 140.0, 140.2, 139.9, 140.1, 140.3, 140.0,
       140.1, 140.4, 140.2, 140.6, 140.3, 140.0, 140.2, 139.4, 139.6, 139.9,
       139.7, 139.5, 139.8, 139.6, 139.9, 139.5, 139.8, 140.2, 140.6, 140.1,
       140.9, 140.2, 139.6, 139.4, 139.7, 139.5, 139.8, 139.6, 139.5, 139.8,
       139.6, 139.9, 139.5, 139.7, 139.6, 140.0, 140.7, 140.1, 139.5, 139.7,
       139.4, 139.6, 139.3, 139.5, 139.7, 139.4, 139.2, 139.5, 139.3, 139.6,
       139.4, 139.2, 139.5, 139.3, 139.1, 139.4, 139.9, 139.3, 139.1, 139.2,
       139.4, 139.0, 138.9, 139.2, 139.0, 139.6, 139.3, 138.8, 139.0, 139.1,
       138.9, 138.6, 138.8, 139.0, 138.7, 138.9, 138.5, 138.8, 138.6, 138.4,
       138.7, 138.5, 138.3, 138.6, 138.4, 138.2, 138.5, 138.3, 138.1, 138.4,
       138.2, 138.0, 138.3, 137.9, 137.8, 138.0, 137.9, 137.8, 138.0]

noisy = {1: s01, 2: s02, 3: s03, 6: s06, 7: s07, 8: s08, 10: s10, 11: s11,
         12: s12, 13: s13, 14: s14, 16: s16, 19: s19, 20: s20}

# ---------------------------------------------------------------------------
# Long-form table: one row per (sensor, cycle)
# ---------------------------------------------------------------------------
frames = []
for idx in range(21):
    if idx in flat_levels:
        values = np.full(n_cycles, flat_levels[idx])
    else:
        values = np.asarray(noisy[idx], dtype=float)
    frames.append(pd.DataFrame({"sensor": idx,
                                "cycle": np.arange(len(values)),
                                "value": values}))
data = pd.concat(frames, ignore_index=True)

# ---------------------------------------------------------------------------
# Styling
# ---------------------------------------------------------------------------
sns.set_style("white")
plt.rcParams["font.family"] = ["DejaVu Serif"]
plt.rcParams["mathtext.fontset"] = "dejavusans"

palette = sns.color_palette("tab10", 10)
colors = {i: palette[i % 10] for i in range(21)}

fig = plt.figure(figsize=(9.0, 4.62), dpi=100)
ax = fig.add_axes([0.0667, 0.0952, 0.948, 0.894])

# faint diagonal watermark band behind the plot
band = Polygon([(0.0, 1 - 345 / 462), (0.0, 1 - 265 / 462),
                (265 / 900, 1.0), (345 / 900, 1.0)],
               closed=True, transform=fig.transFigure,
               facecolor="#000000", alpha=0.04, edgecolor="none", zorder=0)
fig.patches.append(band)
ax.patch.set_alpha(0.0)

sns.lineplot(data=data, x="cycle", y="value", hue="sensor", palette=colors,
             linewidth=1.1, legend=False, ax=ax, estimator=None,
             errorbar=None, sort=False)

# time-window markers
ax.axvline(window_start, ymin=0.007, ymax=0.98, color="black",
           linestyle=(0, (4, 2)), linewidth=1.6, zorder=5)
ax.axvline(window_end, ymin=0.007, ymax=0.98, color="#222222",
           linestyle=(0, (5, 3)), linewidth=0.8, zorder=5)
ax.annotate("", xy=(window_start, 122.1), xytext=(window_end, 122.1),
            arrowprops=dict(arrowstyle="<->", color="black", lw=0.9,
                            shrinkA=0, shrinkB=0, mutation_scale=6),
            zorder=6)
ax.text(window_start + 1.9, 124.9, window_label, fontsize=8.4,
        color="#222222", va="baseline", ha="left", zorder=6)

ax.set_xlim(-0.8, 231)
ax.set_ylim(-4.6, 148)
ax.set_xticks(x_ticks)
ax.set_yticks(y_ticks)
ax.tick_params(axis="both", labelsize=8.5, colors="#333333", length=3.5,
               width=0.8, direction="out", pad=2.5, bottom=True, left=True)
ax.set_xlabel(x_label, fontsize=12, color="#222222", labelpad=2)
ax.set_ylabel(y_label, fontsize=12, color="#222222", labelpad=3)

for side in ("left", "bottom"):
    ax.spines[side].set_color("#333333")
    ax.spines[side].set_linewidth(0.9)
ax.spines["top"].set_color("#aaaaaa")
ax.spines["right"].set_visible(False)

fig.savefig("out.png", dpi=100)
